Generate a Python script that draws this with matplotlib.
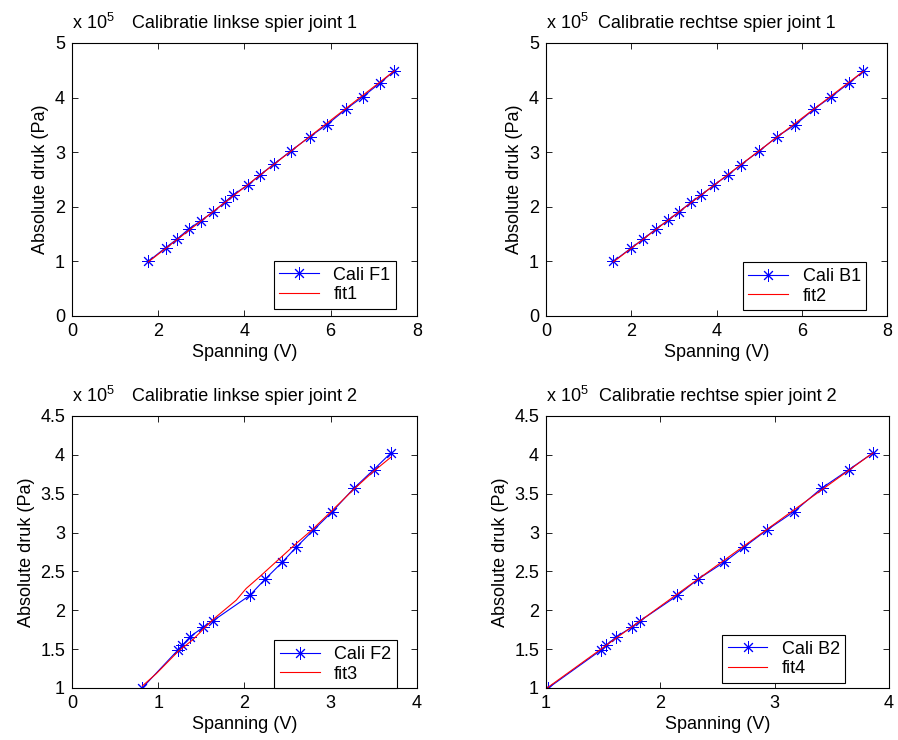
"""
Calibratie van de spieren: absolute druk tegen spanning, vier panelen.
"""

import numpy as np
import matplotlib
matplotlib.use('Agg')
import matplotlib.pyplot as plt
from matplotlib.ticker import FuncFormatter

plt.rcParams['font.family'] = ['Liberation Sans', 'DejaVu Sans']
plt.rcParams['mathtext.fontset'] = 'custom'
plt.rcParams['mathtext.rm'] = 'Liberation Sans'

# --- data (druk in eenheden van 1e5 Pa) ---
v_f1 = [1.77, 2.17, 2.44, 2.72, 2.99, 3.28, 3.54, 3.74, 4.08, 4.36, 4.68,
        5.09, 5.51, 5.91, 6.36, 6.74, 7.15, 7.48]
p_f1 = [1.00, 1.25, 1.41, 1.60, 1.745, 1.91, 2.08, 2.22, 2.40, 2.58, 2.78,
        3.03, 3.28, 3.50, 3.79, 4.01, 4.27, 4.49]
fit1_v = [1.77, 7.48]
fit1_p = [0.99, 4.49]

v_b1 = [1.58, 2.00, 2.28, 2.59, 2.86, 3.12, 3.40, 3.63, 3.95, 4.26, 4.57,
        5.00, 5.41, 5.84, 6.29, 6.68, 7.11, 7.44]
p_b1 = [1.00, 1.245, 1.41, 1.60, 1.75, 1.91, 2.08, 2.21, 2.40, 2.58, 2.77,
        3.02, 3.28, 3.50, 3.79, 4.01, 4.27, 4.48]
fit2_v = [1.58, 7.44]
fit2_p = [0.99, 4.48]

p_joint2 = [1.00, 1.49, 1.55, 1.66, 1.78, 1.86, 2.19, 2.40, 2.62, 2.81,
            3.03, 3.27, 3.57, 3.81, 4.025]
v_f2 = [0.815, 1.23, 1.28, 1.37, 1.52, 1.63, 2.06, 2.24, 2.44, 2.60,
        2.80, 3.02, 3.27, 3.50, 3.70]
fit3_v = [0.816, 0.978, 1.23, 1.40, 1.634, 1.905, 2.02, 2.175, 2.387, 2.60,
          2.79, 3.02, 3.256, 3.49, 3.70]
fit3_p = [1.026, 1.185, 1.47, 1.62, 1.88, 2.13, 2.28, 2.43, 2.644, 2.858,
          3.04, 3.287, 3.544, 3.78, 3.97]

v_b2 = [1.02, 1.484, 1.528, 1.615, 1.75, 1.82, 2.15, 2.33, 2.56, 2.73,
        2.93, 3.17, 3.41, 3.65, 3.86]
fit4_v = [1.0, 3.86]
fit4_p = [0.99, 4.025]

panels = [
    dict(v=v_f1, p=p_f1, fv=fit1_v, fp=fit1_p, name='Cali F1', fit='fit1',
         title='Calibratie linkse spier joint 1',
         xlim=(0, 8), xticks=[0, 2, 4, 6, 8],
         ylim=(0, 5), yticks=[0, 1, 2, 3, 4, 5],
         rect=[0.0802, 0.573, 0.384, 0.369], leg=(0.939, 0.026)),
    dict(v=v_b1, p=p_b1, fv=fit2_v, fp=fit2_p, name='Cali B1', fit='fit2',
         title='Calibratie rechtse spier joint 1',
         xlim=(0, 8), xticks=[0, 2, 4, 6, 8],
         ylim=(0, 5), yticks=[0, 1, 2, 3, 4, 5],
         rect=[0.608, 0.573, 0.380, 0.369], leg=(0.938, 0.022)),
    dict(v=v_f2, p=p_joint2, fv=fit3_v, fp=fit3_p, name='Cali F2', fit='fit3',
         title='Calibratie linkse spier joint 2',
         xlim=(0, 4), xticks=[0, 1, 2, 3, 4],
         ylim=(1, 4.5), yticks=[1, 1.5, 2, 2.5, 3, 3.5, 4, 4.5],
         rect=[0.0802, 0.0703, 0.384, 0.3676], leg=(0.941, 0.0)),
    dict(v=v_b2, p=p_joint2, fv=fit4_v, fp=fit4_p, name='Cali B2', fit='fit4',
         title='Calibratie rechtse spier joint 2',
         xlim=(1, 4), xticks=[1, 2, 3, 4],
         ylim=(1, 4.5), yticks=[1, 1.5, 2, 2.5, 3, 3.5, 4, 4.5],
         rect=[0.608, 0.0703, 0.382, 0.3676], leg=(0.873, 0.019)),
]

fs = 13
fmt = FuncFormatter(lambda val, pos: f'{val / 1e5:g}')

fig = plt.figure(figsize=(8.98, 7.4), dpi=100)

for pn in panels:
    ax = fig.add_axes(pn['rect'])
    ax.plot(np.array(pn['v']), np.array(pn['p']) * 1e5, color='#0000ff',
            lw=0.8, marker=(8, 2, 0), ms=9, mew=0.7, label=pn['name'])
    ax.plot(np.array(pn['fv']), np.array(pn['fp']) * 1e5, color='#ff0000',
            lw=0.8, label=pn['fit'])

    ax.set_xlim(*pn['xlim'])
    ax.set_ylim(pn['ylim'][0] * 1e5, pn['ylim'][1] * 1e5)
    ax.set_xticks(pn['xticks'])
    ax.set_yticks([t * 1e5 for t in pn['yticks']])
    ax.yaxis.set_major_formatter(fmt)
    ax.tick_params(direction='in', length=4, width=0.6, top=True, right=True,
                   labelsize=fs, pad=5)
    for s in ax.spines.values():
        s.set_linewidth(0.8)

    ax.set_xlabel('Spanning (V)', fontsize=fs, labelpad=3)
    ax.set_ylabel('Absolute druk (Pa)', fontsize=fs, labelpad=4)
    ax.set_title(pn['title'], fontsize=fs, pad=11)
    ax.text(0.0, 1.035, r'x 10$^{\mathregular{5}}$', transform=ax.transAxes,
            fontsize=fs, ha='left', va='bottom')

    leg = ax.legend(loc='lower right', bbox_to_anchor=pn['leg'],
                    borderaxespad=0, fontsize=fs, numpoints=1,
                    handlelength=2.2, fancybox=False, framealpha=1,
                    edgecolor='black', labelspacing=0.15, borderpad=0.3)
    leg.get_frame().set_linewidth(0.8)

fig.savefig('out.png', dpi=100)
